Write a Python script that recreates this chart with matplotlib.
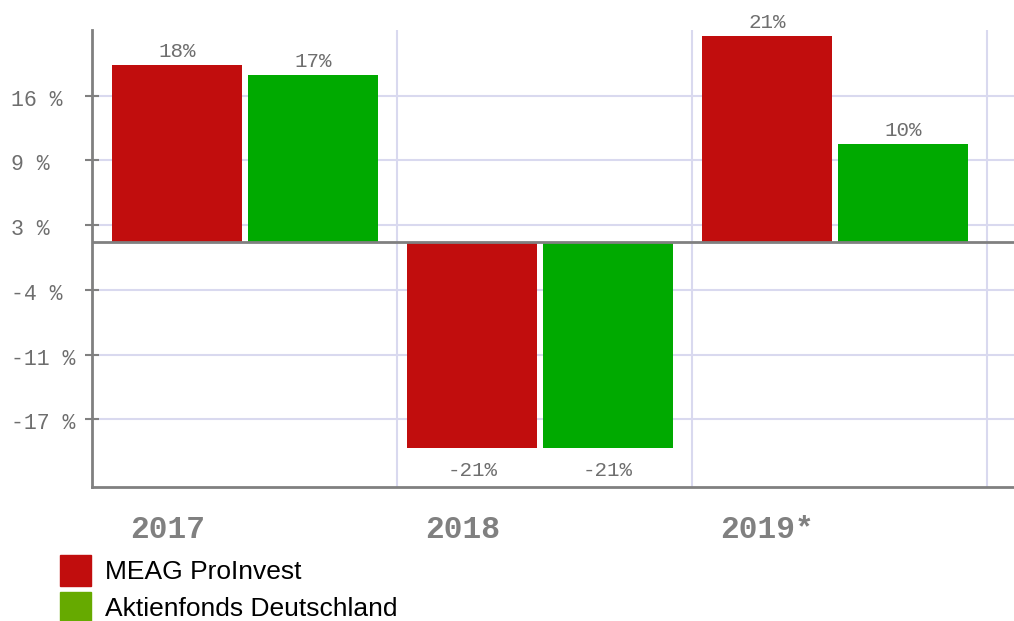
import numpy as np
import matplotlib.pyplot as plt
from matplotlib.patches import Patch
from matplotlib.transforms import blended_transform_factory

# Values
years = ['2017', '2018', '2019*']
meag = [18, -21, 21]
aktien = [17, -21, 10]
series_names = ['MEAG ProInvest', 'Aktienfonds Deutschland']

# y ticks (positions on the bar scale) and the labels shown on the chart
ytick_pos = [14.9, 8.3, 1.7, -4.9, -11.5, -18.1]
ytick_labels = ['16 %', '9 %', '3 %', '-4 %', '-11 %', '-17 %']

red = '#c10d0d'
green = '#00aa00'
legend_green = '#66aa00'
grey = '#808080'
grid_col = '#d9d9ef'
mono = 'Liberation Mono'

fig = plt.figure(figsize=(10.14, 6.21), dpi=100)
ax = fig.add_axes([92 / 1014, 1 - 487 / 621, 922 / 1014, 457 / 621])

x = np.arange(len(years))
width = 0.44
ax.bar(x + 0.255, meag, width, color=red, zorder=3)
ax.bar(x + 0.715, aktien, width, color=green, zorder=3)

ax.set_xlim(-0.034, 3.092)
ax.set_ylim(-25.0, 21.6)

# grid
ax.set_xticks([1, 2, 3])
ax.set_xticklabels([])
ax.tick_params(axis='x', length=0)
ax.set_yticks(ytick_pos)
ax.set_yticklabels([])
ax.tick_params(axis='y', direction='inout', length=10, width=1.5, color=grey)
ax.grid(True, color=grid_col, linewidth=1.5, zorder=0)
ax.axhline(0, color=grey, linewidth=2, zorder=4)

# y labels are left aligned in the original, sitting a little below the grid line
ytrans = blended_transform_factory(fig.transFigure, ax.transData)
for pos, lab in zip(ytick_pos, ytick_labels):
    ax.text(11 / 1014, pos - 0.45, lab, transform=ytrans, ha='left', va='center',
            fontfamily=mono, fontsize=15.5, color='#6e6e6e')

for s in ['top', 'right']:
    ax.spines[s].set_visible(False)
for s in ['left', 'bottom']:
    ax.spines[s].set_color(grey)
    ax.spines[s].set_linewidth(2)

# value labels
for xi, vals in [(x + 0.255, meag), (x + 0.715, aktien)]:
    for xx, v in zip(xi, vals):
        if v >= 0:
            ax.text(xx, v + 0.4, f'{v}%', ha='center', va='bottom', fontfamily=mono,
                    fontsize=15, color='#6e6e6e')
        else:
            ax.text(xx, v - 1.3, f'{v}%', ha='center', va='top', fontfamily=mono,
                    fontsize=15, color='#6e6e6e')

# category labels
trans = blended_transform_factory(ax.transData, ax.transAxes)
for i, yr in enumerate(years):
    ax.text(i + 0.095, -0.094, yr, transform=trans, ha='left', va='center',
            fontfamily=mono, fontweight='bold', fontsize=22.5, color=grey)

handles = [Patch(color=red), Patch(color=legend_green)]
fig.legend(handles, series_names, loc='upper left', bbox_to_anchor=(60 / 1014, 1 - 555 / 621),
           frameon=False, borderpad=0, borderaxespad=0, handlelength=1.16, handleheight=1.42,
           handletextpad=0.55, labelspacing=0.24,
           prop={'family': 'Liberation Sans', 'size': 19})

plt.savefig('out.png', dpi=100)
